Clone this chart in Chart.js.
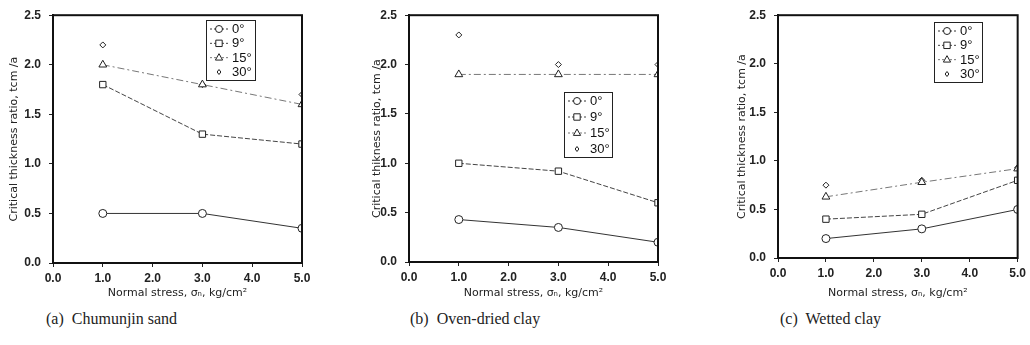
<!DOCTYPE html>
<html><head><meta charset="utf-8">
<script src="https://cdn.jsdelivr.net/npm/chart.js@4/dist/chart.umd.min.js"></script>
<style>
html,body{margin:0;padding:0;background:#fff;}
#wrap{position:relative;width:1030px;height:345px;overflow:hidden;background:#fff;}
canvas{position:absolute;top:0;}
.cap{position:absolute;top:310px;font-family:"Liberation Serif","Times New Roman",serif;font-size:16px;color:#222;white-space:nowrap;}
</style></head>
<body><div id="wrap">
<canvas id="c1" width="340" height="300" style="left:0px"></canvas>
<canvas id="c2" width="340" height="300" style="left:340px"></canvas>
<canvas id="c3" width="350" height="300" style="left:680px"></canvas>
<div class="cap" style="left:46px">(a)&nbsp; Chumunjin sand</div>
<div class="cap" style="left:410px">(b)&nbsp; Oven-dried clay</div>
<div class="cap" style="left:780px">(c)&nbsp; Wetted clay</div>
</div>
<script>
// ---- data ----
const normalStress = [1, 3, 5];
const angleLabels = ['0°', '9°', '15°', '30°'];
const xTicks = [0, 1, 2, 3, 4, 5];
const yTicks = [0, 0.5, 1.0, 1.5, 2.0, 2.5];

const sand0  = [0.50, 0.50, 0.35];
const sand9  = [1.80, 1.30, 1.20];
const sand15 = [2.00, 1.80, 1.60];
const sand30 = [2.20, 1.80, 1.70];

const oven0  = [0.43, 0.35, 0.20];
const oven9  = [1.00, 0.92, 0.60];
const oven15 = [1.90, 1.90, 1.90];
const oven30 = [2.30, 2.00, 2.00];

const wet0  = [0.20, 0.30, 0.50];
const wet9  = [0.40, 0.45, 0.80];
const wet15 = [0.63, 0.78, 0.92];
const wet30 = [0.75, 0.80, 0.93];

// ---- styles ----
const styles = [
  {pointStyle:'circle',  radius:4,   dash:[],          color:'#333', line:true},
  {pointStyle:'rect',    radius:4.5, dash:[5,2],       color:'#444', line:true},
  {pointStyle:'triangle',radius:4.5, dash:[7,3,2,3],   color:'#777', line:true},
  {pointStyle:'rectRot', radius:3,   dash:[],          color:'#333', line:false}
];

function drawMarker(ctx, style, r, x, y){
  ctx.save();
  ctx.fillStyle='#fff'; ctx.strokeStyle='#222'; ctx.lineWidth=1; ctx.setLineDash([]);
  ctx.beginPath();
  if(style==='circle'){ ctx.arc(x,y,r,0,Math.PI*2); }
  else if(style==='rect'){ ctx.rect(x-r*0.8,y-r*0.8,r*1.6,r*1.6); }
  else if(style==='triangle'){ ctx.moveTo(x,y-r); ctx.lineTo(x+r*0.9,y+r*0.6); ctx.lineTo(x-r*0.9,y+r*0.6); ctx.closePath(); }
  else { ctx.moveTo(x,y-r); ctx.lineTo(x+r*0.75,y); ctx.lineTo(x,y+r); ctx.lineTo(x-r*0.75,y); ctx.closePath(); }
  ctx.fill(); ctx.stroke(); ctx.restore();
}

const framePlugin = {
  id:'frameLegend',
  afterDraw(chart){
    const ctx = chart.ctx, a = chart.chartArea;
    ctx.save();
    ctx.strokeStyle='#111'; ctx.lineWidth=2; ctx.setLineDash([]);
    ctx.strokeRect(a.left, a.top, a.right-a.left, a.bottom-a.top);
    const lb = chart.options.plugins.frameLegend;
    const bx = lb.x, by = lb.y, bw = lb.w, bh = lb.h;
    ctx.fillStyle='#fff';
    ctx.fillRect(bx,by,bw,bh);
    ctx.lineWidth=1; ctx.strokeStyle='#222';
    ctx.strokeRect(bx+0.5,by+0.5,bw,bh);
    chart.data.datasets.forEach((ds,i)=>{
      const st = styles[i];
      const yy = by + 9 + i*(bh-17)/3;
      if(st.line){
        ctx.save(); ctx.strokeStyle=st.color; ctx.lineWidth=1; ctx.setLineDash([2,2]);
        ctx.beginPath(); ctx.moveTo(bx+4,yy); ctx.lineTo(bx+22,yy); ctx.stroke(); ctx.restore();
      }
      drawMarker(ctx, st.pointStyle, st.radius-0.5, bx+13, yy);
      ctx.fillStyle='#111'; ctx.font='13px "Liberation Sans", Arial, sans-serif';
      ctx.textBaseline='middle'; ctx.textAlign='left';
      ctx.fillText(ds.label, bx+26, yy+0.5);
    });
    ctx.restore();
  }
};

function makeChart(id, series, yTitle, area, legendBox, titleShift){
  const canvas = document.getElementById(id);
  const W = canvas.width, H = canvas.height;
  const datasets = series.map((vals,i)=>{
    const st = styles[i];
    return {
      label: angleLabels[i],
      data: normalStress.map((x,k)=>({x:x, y:vals[k]})),
      showLine: st.line,
      borderColor: st.color,
      borderWidth: 1,
      borderDash: st.dash,
      pointStyle: st.pointStyle,
      pointRadius: st.radius,
      pointBorderColor:'#222',
      pointBackgroundColor:'#fff',
      pointBorderWidth:1,
      tension:0
    };
  });
  const tickFont = {family:'"Liberation Sans", Arial, sans-serif', size:12, weight:'bold'};
  const titleFont = {family:'"DejaVu Sans", sans-serif', size:11};
  return new Chart(canvas, {
    type:'scatter',
    data:{datasets},
    options:{
      responsive:false, animation:false, devicePixelRatio:1,
      layout:{padding:{left:0, top:area.top, right:W-area.right, bottom:0}},
      plugins:{legend:{display:false}, tooltip:{enabled:false}, frameLegend:legendBox},
      scales:{
        x:{type:'linear', min:0, max:5,
           afterBuildTicks:(s)=>{ s.ticks = xTicks.map(v=>({value:v})); },
           afterFit:(s)=>{ s.height = H-area.bottom; },
           ticks:{color:'#222', font:tickFont, padding:4, callback:(v)=>Number(v).toFixed(1)},
           grid:{drawOnChartArea:false, tickLength:4, color:'#222'},
           border:{color:'#111', width:2},
           title:{display:true, text:'Normal stress, σₙ, kg/cm²', color:'#222', font:titleFont, padding:{top:1,bottom:0}}},
        y:{type:'linear', min:0, max:2.5,
           afterBuildTicks:(s)=>{ s.ticks = yTicks.map(v=>({value:v})); },
           afterFit:(s)=>{ s.width = area.left; },
           ticks:{color:'#222', font:tickFont, padding:8, callback:(v)=>Number(v).toFixed(1)},
           grid:{drawOnChartArea:false, tickLength:4, color:'#222'},
           border:{color:'#111', width:2},
           title:{display:true, text:yTitle, color:'#222', font:titleFont, padding:{top:titleShift,bottom:2}}}
      }
    },
    plugins:[framePlugin]
  });
}

makeChart('c1', [sand0, sand9, sand15, sand30], 'Critical thickness ratio, tcm /a',
  {left:53, right:302, top:12, bottom:263}, {x:206, y:20, w:49, h:60}, 8);
makeChart('c2', [oven0, oven9, oven15, oven30], 'Critical thikness ratio, tcm /a',
  {left:69, right:318, top:7, bottom:262}, {x:224, y:92, w:48, h:65}, 31);
makeChart('c3', [wet0, wet9, wet15, wet30], 'Critical thickness ratio, tcm /a',
  {left:98, right:340, top:12, bottom:258}, {x:254, y:22, w:48, h:60}, 56);
</script>
</body></html>
